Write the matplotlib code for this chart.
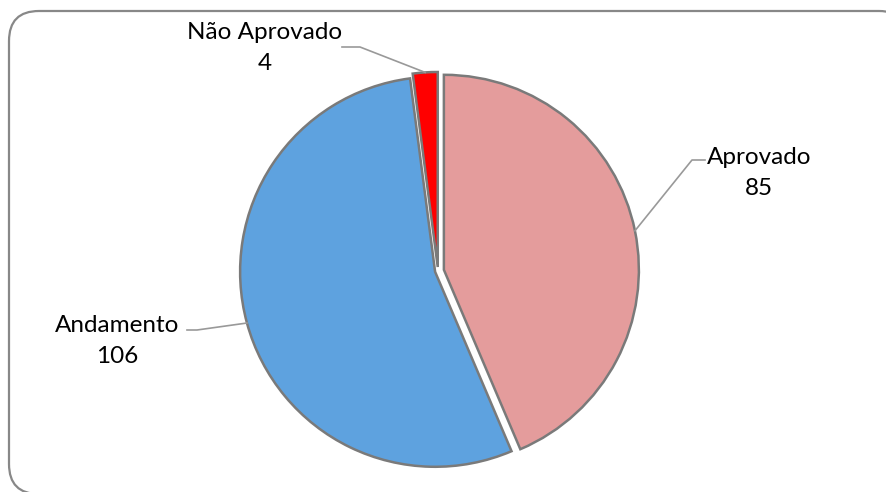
import numpy as np
import matplotlib.pyplot as plt
from matplotlib.patches import FancyBboxPatch

# dados
rotulos = ["Aprovado", "Andamento", "Não Aprovado"]
valores = [85, 106, 4]
cores = ["#E49C9C", "#5EA2DF", "#FF0000"]

plt.rcParams['font.family'] = ['Lato', 'DejaVu Sans']

W, H = 886, 492
fig = plt.figure(figsize=(W / 100, H / 100), dpi=100)
ax = fig.add_axes([0, 0, 1, 1])

# moldura arredondada (cortada à direita e embaixo)
moldura = FancyBboxPatch((9, -2), 900, 483, boxstyle="round,pad=0,rounding_size=30",
                         facecolor='white', edgecolor='#888888', linewidth=1.6, zorder=0)
ax.add_patch(moldura)

# no pie o explode é em unidades de dados (aqui, pixels)
cx, cy, r = 438, H - 271, 195
wedges, _ = ax.pie(valores, colors=cores, startangle=90, counterclock=False,
                   center=(cx, cy), radius=r, explode=[6, 3, 4],
                   wedgeprops=dict(edgecolor='#7a7a7a', linewidth=1.8), frame=True)
ax.set_xlim(0, W)
ax.set_ylim(0, H)
ax.set_aspect('equal')
ax.axis('off')

# posições dos rótulos (x, y) e cotovelo da linha guia
pos_texto = [(759, H - 173), (117, H - 341), (265, H - 48)]
cotovelos = [((692, H - 160), (705, H - 160)),
             ((197, H - 330), (187, H - 330)),
             ((360, H - 47), (342, H - 47))]

for w, rot, val, (tx, ty), (c1, c2) in zip(wedges, rotulos, valores, pos_texto, cotovelos):
    ang = np.deg2rad((w.theta1 + w.theta2) / 2)
    ox, oy = w.center
    ax0 = ox + r * np.cos(ang)
    ay0 = oy + r * np.sin(ang)
    ax.plot([ax0, c1[0], c2[0]], [ay0, c1[1], c2[1]], color='#999999', lw=1.2, zorder=5)
    ax.text(tx, ty, f"{rot}\n{val}", ha='center', va='center', fontsize=17.5,
            linespacing=1.55, color='black', zorder=6)

plt.savefig("out.png", dpi=100)
